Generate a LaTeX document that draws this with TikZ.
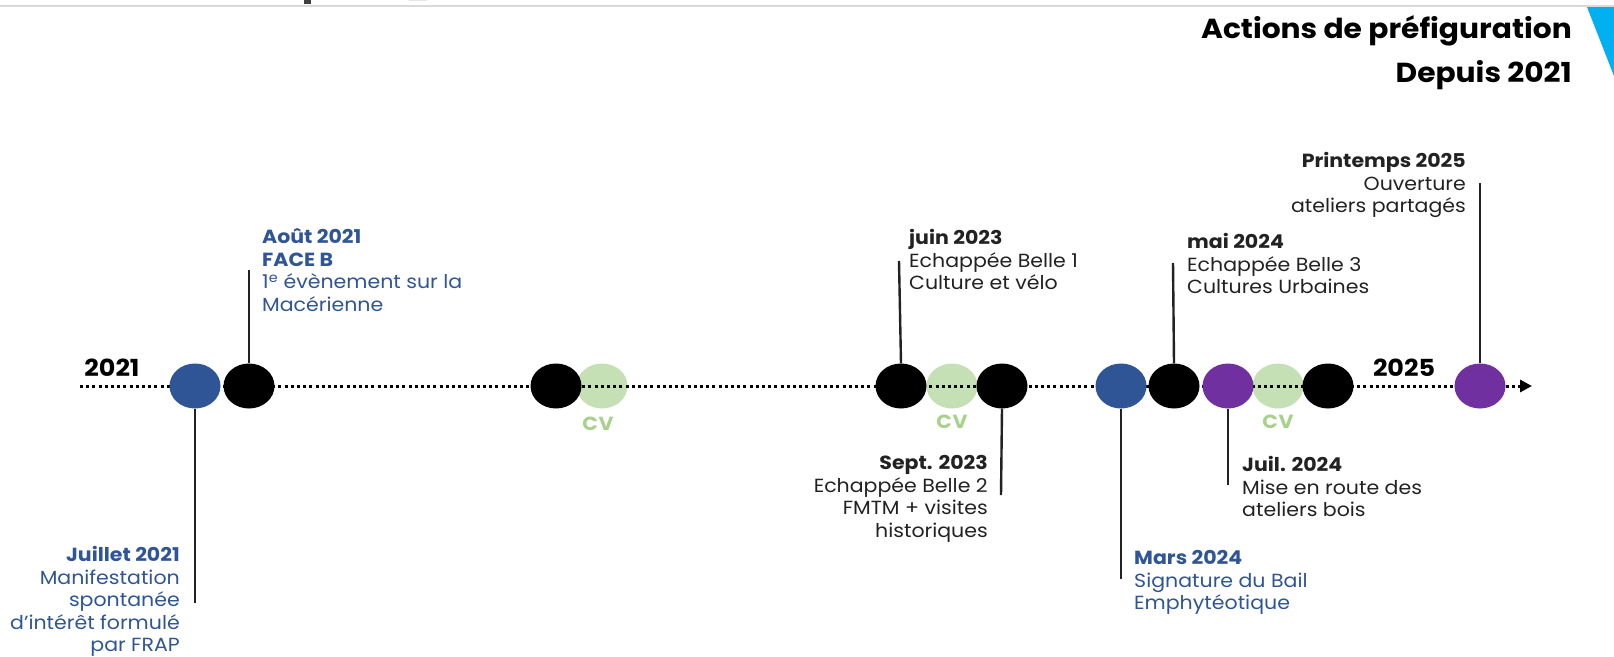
\documentclass[tikz,border=0pt]{standalone}
\usepackage{fontspec}
\setmainfont[FakeStretch=1.08]{Poppins}
\usetikzlibrary{positioning,shapes.geometric,arrows.meta}
\definecolor{frapblue}{HTML}{2F5597}
\definecolor{frappurple}{HTML}{7030A0}
\definecolor{cvfill}{HTML}{C5E0B4}
\definecolor{cvtext}{HTML}{A9D18E}
\definecolor{inkgray}{HTML}{222222}
\definecolor{headcyan}{HTML}{00B0F0}
\begin{document}
\begin{tikzpicture}[x=1pt,y=-1pt,
    dot/.style={ellipse,minimum width=51pt,minimum height=45pt,inner sep=0pt},
    stem/.style={line width=2.4pt,inkgray},
    event/.style={inner sep=0pt,font=\fontsize{19}{22.5}\selectfont,inkgray},
    cvlabel/.style={inner sep=0pt,font=\fontsize{19}{20}\selectfont\bfseries\addfontfeatures{LetterSpace=3},cvtext},
    year/.style={inner sep=0pt,font=\fontsize{23.5}{26}\selectfont\bfseries}]
    \fill[white] (0,0) rectangle (1614,656);
    \useasboundingbox (0,0) rectangle (1614,656);
    % bandeau du haut
    \draw[line width=2pt,black!15] (0,5.5) -- (1614,5.5);
    \fill[black!75] (304,0) rectangle (311,4);
    \fill[black!75] (409,0) arc[start angle=180,end angle=0,x radius=9,y radius=-6] -- cycle;
    \fill[headcyan] (1587,7) -- (1614,7) -- (1614,76) -- cycle;
    \node[anchor=east,inner sep=0pt,font=\fontsize{27.5}{30}\selectfont\bfseries] (titre) at (1572,31) {Actions de préfiguration};
    \node[anchor=east,inner sep=0pt,font=\fontsize{27.5}{30}\selectfont\bfseries] (depuis) at (1572,75) {Depuis 2021};

    % CV derriere la ligne
    \node[dot,fill=cvfill] (cv22) at (602,386) {};
    \node[dot,fill=cvfill] (cv23) at (952,386) {};
    \node[dot,fill=cvfill] (cv24) at (1278,386) {};
    \node[cvlabel,below=8pt of cv22,xshift=-4pt] (cv22txt) {CV};
    \node[cvlabel,below=6pt of cv23] (cv23txt) {CV};
    \node[cvlabel,below=6pt of cv24] (cv24txt) {CV};

    % frise
    \coordinate (debut) at (80,386);
    \coordinate (fin) at (1532,386);
    \draw[line width=3pt,dash pattern=on 3pt off 3.2pt,-{Triangle[length=12pt,width=12pt]}] (debut) -- (fin);
    \node[year] (an21) at (112,368) {2021};
    \node[year] (an25) at (1404,368) {2025};

    \node[dot,fill=frapblue] (juil21) at (195,386) {};
    \node[dot,fill=black] (aout21) at (249,386) {};
    \node[dot,fill=black] (ev22) at (556,386) {};
    \node[dot,fill=black] (juin23) at (901,386) {};
    \node[dot,fill=black] (sept23) at (1002,386) {};
    \node[dot,fill=frapblue] (mars24) at (1121,386) {};
    \node[dot,fill=black] (mai24) at (1174,386) {};
    \node[dot,fill=frappurple] (juil24) at (1228,386) {};
    \node[dot,fill=black] (ev24) at (1328,386) {};
    \node[dot,fill=frappurple] (print25) at (1480,386) {};

    % traits vers les textes
    \coordinate (juil21bas) at (195,603);
    \coordinate (aout21haut) at (249,270);
    \coordinate (juin23haut) at (899,261);
    \coordinate (sept23bas) at (1001,495);
    \coordinate (mars24bas) at (1121,579);
    \coordinate (mai24haut) at (1173,263);
    \coordinate (juil24bas) at (1228,485);
    \coordinate (print25haut) at (1480,183);
    \draw[stem] (juil21.south) -- (juil21bas);
    \draw[stem] (aout21.north) -- (aout21haut);
    \draw[stem] (juin23.north) -- (juin23haut);
    \draw[stem] (sept23.south) -- (sept23bas);
    \draw[stem] (mars24.south) -- (mars24bas);
    \draw[stem] (mai24.north) -- (mai24haut);
    \draw[stem] (juil24.south) -- (juil24bas);
    \draw[stem] (print25.north) -- (print25haut);

    % textes (ancre sur la derniere ligne)
    \node[event,frapblue,align=right,anchor=base east] (juil21txt) at (180,651.5)
        {\textbf{Juillet 2021}\\Manifestation\\spontanée\\d’intérêt formulé\\par FRAP};
    \node[event,frapblue,align=left,anchor=base west] (aout21txt) at (262,311)
        {\textbf{Août 2021}\\\textbf{FACE B}\\1\textsuperscript{e} évènement sur la\\Macérienne};
    \node[event,align=left,anchor=base west] (juin23txt) at (909,289.5)
        {\textbf{juin 2023}\\Echappée Belle 1\\Culture et vélo};
    \node[event,align=right,anchor=base east] (sept23txt) at (988,537)
        {\textbf{Sept. 2023}\\Echappée Belle 2\\FMTM + visites\\historiques};
    \node[event,frapblue,align=left,anchor=base west] (mars24txt) at (1134,609.5)
        {\textbf{Mars 2024}\\Signature du Bail\\Emphytéotique};
    \node[event,align=left,anchor=base west] (mai24txt) at (1187,293.5)
        {\textbf{mai 2024}\\Echappée Belle 3\\Cultures Urbaines};
    \node[event,align=left,anchor=base west] (juil24txt) at (1242,516.5)
        {\textbf{Juil. 2024}\\Mise en route des\\ateliers bois};
    \node[event,align=right,anchor=base east] (print25txt) at (1466,212.5)
        {\textbf{Printemps 2025}\\Ouverture\\ateliers partagés};
\end{tikzpicture}
\end{document}
